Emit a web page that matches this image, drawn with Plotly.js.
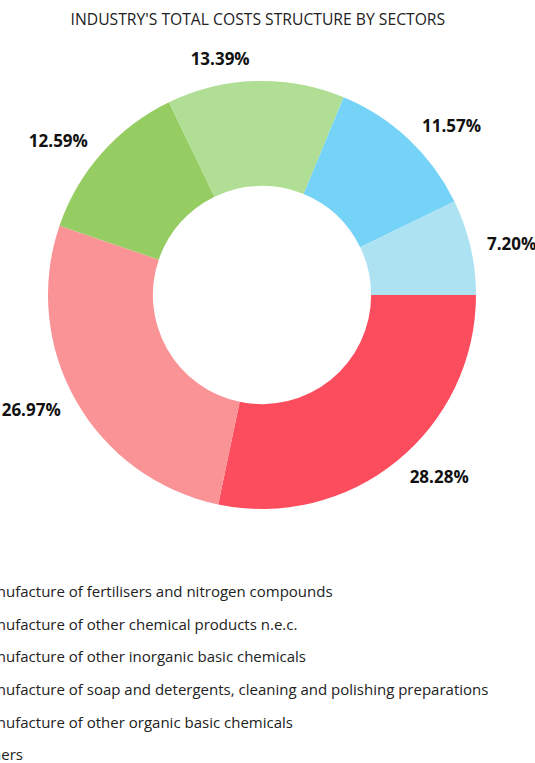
<!DOCTYPE html>
<html>
<head>
<meta charset="utf-8">
<script src="https://cdn.plot.ly/plotly-3.0.1.min.js"></script>
<style>html,body{margin:0;padding:0;background:#fff;overflow:hidden}#chart{width:535px;height:763px}</style>
</head>
<body>
<div id="chart"></div>
<script>
const sectors = [
  "Manufacture of fertilisers and nitrogen compounds",
  "Manufacture of other chemical products n.e.c.",
  "Manufacture of other inorganic basic chemicals",
  "Manufacture of soap and detergents, cleaning and polishing preparations",
  "Manufacture of other organic basic chemicals",
  "Others"
];
const shares = [28.28, 26.97, 12.59, 13.39, 11.57, 7.20];
const colors = ["#fb4d5e", "#f99396", "#96cd62", "#b1de95", "#74d3f7", "#ade2f3"];
const titleText = "INDUSTRY'S TOTAL COSTS STRUCTURE BY SECTORS";

const W = 535, H = 763;
const cx = 262, cy = 295, R = 214, RL = 225;
const dom = r => ({x: [(cx - r) / W, (cx + r) / W], y: [(H - (cy + r)) / H, (H - (cy - r)) / H]});
const labelFont = {family: "Open Sans, sans-serif", size: 17, color: "#111", weight: 700};

const ring = {
  type: "pie",
  labels: sectors,
  values: shares,
  sort: false,
  direction: "clockwise",
  rotation: 90,
  hole: 0.51,
  marker: {colors: colors, line: {width: 0}},
  textinfo: "none",
  automargin: false,
  domain: dom(R),
  hoverinfo: "label+percent"
};

// transparent companion pie: only carries the percentage labels, slightly further out
const labelRing = {
  type: "pie",
  labels: sectors,
  values: shares,
  sort: false,
  direction: "clockwise",
  rotation: 90,
  hole: 0.9,
  showlegend: false,
  marker: {colors: sectors.map(() => "rgba(0,0,0,0)"), line: {width: 0}},
  texttemplate: "%{value:.2f}%",
  textposition: "outside",
  outsidetextfont: labelFont,
  textfont: labelFont,
  automargin: false,
  domain: dom(RL),
  hoverinfo: "skip"
};

// legend-only spacer so that every slice gets its own legend group (enables tracegroupgap)
const spacer = {
  type: "pie",
  labels: ["\u00a0"],
  values: [1],
  visible: "legendonly",
  legendgroup: "spacer",
  marker: {colors: ["rgba(0,0,0,0)"]},
  domain: dom(R)
};

const layout = {
  width: W, height: H,
  margin: {l: 0, r: 0, t: 0, b: 0, autoexpand: false},
  paper_bgcolor: "#fff",
  font: {family: "Open Sans, sans-serif", color: "#222"},
  title: {text: titleText, font: {size: 15.7, color: "#222"}, x: 0.482, xanchor: "center", xref: "container", y: 1 - 20 / H, yanchor: "middle", yref: "container"},
  showlegend: true,
  legend: {
    xref: "paper", yref: "paper",
    x: -65 / W, xanchor: "left",
    y: 1 - 575 / H, yanchor: "top",
    traceorder: "grouped",
    tracegroupgap: 10.1,
    font: {size: 15, color: "#222"},
    bgcolor: "rgba(0,0,0,0)"
  }
};

Plotly.newPlot("chart", [ring, labelRing, spacer], layout, {displayModeBar: false, staticPlot: true});
</script>
</body>
</html>
